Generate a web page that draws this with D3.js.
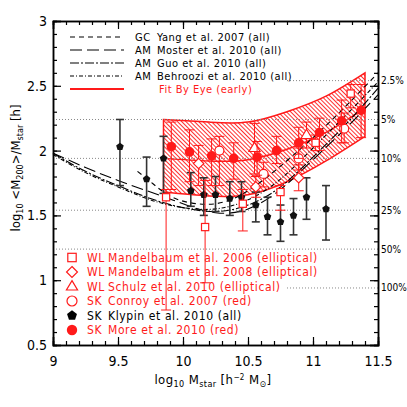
<!DOCTYPE html>
<html>
<head>
<meta charset="utf-8">
<script src="https://cdn.jsdelivr.net/npm/d3@7"></script>
<style>
  body { margin: 0; background: #fff; }
  svg { display: block; }
  text { font-family: "Liberation Sans Narrow", "DejaVu Sans Condensed", "Liberation Sans", sans-serif; }
</style>
</head>
<body>
<svg id="chart" width="407" height="407"></svg>
<script>
// tick labels
const xTicks = [9, 9.5, 10, 10.5, 11, 11.5];
const yTicks = [0.5, 1, 1.5, 2, 2.5, 3];
const pctLabels = ["2.5%", "5%", "10%", "25%", "50%", "100%"];
const pctLevels = [2.54, 2.24, 1.94, 1.54, 1.24, 0.94];

// abundance matching / group catalogue curves
const modelX = [9.0, 9.25, 9.5, 9.75, 10.0, 10.25, 10.5, 10.75, 11.0, 11.25, 11.5];
const moster = [1.98, 1.87, 1.77, 1.68, 1.59, 1.52, 1.55, 1.70, 1.93, 2.17, 2.43];
const guo = [1.98, 1.84, 1.73, 1.63, 1.56, 1.53, 1.58, 1.72, 1.95, 2.20, 2.48];
const behroozi = [1.97, 1.83, 1.72, 1.62, 1.56, 1.55, 1.62, 1.78, 2.02, 2.27, 2.53];
const yangX = [9.65, 9.75, 9.85, 10.0, 10.25, 10.5, 10.75, 11.0, 11.25, 11.5];
const yang = [1.84, 1.76, 1.68, 1.61, 1.59, 1.69, 1.88, 2.10, 2.34, 2.60];

// fit by eye band
const bandX = [9.85, 10.2, 10.5, 10.8, 11.1, 11.4];
const bandUp = [2.24, 2.22, 2.22, 2.30, 2.42, 2.60];
const bandMid = [1.94, 1.92, 1.93, 2.01, 2.14, 2.33];
const bandLo = [1.68, 1.65, 1.66, 1.76, 1.92, 2.11];

// Klypin et al. 2010 (SK, all)
const klypinX = [9.515, 9.72, 9.85, 10.06, 10.16, 10.25, 10.36, 10.45, 10.56, 10.65, 10.75, 10.85, 10.95, 11.10];
const klypinY = [2.03, 1.78, 1.94, 1.69, 1.66, 1.66, 1.63, 1.64, 1.58, 1.49, 1.45, 1.50, 1.64, 1.55];
const klypinHi = [2.24, 1.95, 2.11, 1.83, 1.79, 1.80, 1.76, 1.76, 1.68, 1.64, 1.58, 1.63, 1.79, 1.73];
const klypinLo = [1.73, 1.57, 1.67, 1.57, 1.50, 1.53, 1.50, 1.53, 1.45, 1.35, 1.30, 1.35, 1.47, 1.31];

// Mandelbaum et al. 2006 (WL, elliptical)
const mand06X = [9.87, 10.17, 10.46, 10.75, 11.02, 11.29];
const mand06Y = [1.64, 1.41, 1.59, 1.68, 2.06, 2.44];
const mand06Hi = [1.70, 1.77, 1.70, 1.73, 2.12, 2.51];
const mand06Lo = [0.77, 0.98, 1.38, 1.54, 2.00, 2.33];

// Mandelbaum et al. 2008 (WL, elliptical)
const mand08X = [10.12, 10.56, 10.89];
const mand08Y = [1.90, 1.72, 1.79];
const mand08Hi = [2.04, 1.80, 1.89];
const mand08Lo = [1.73, 1.64, 1.69];

// Schulz et al. 2010 (WL, elliptical)
const schulzX = [10.55, 10.95];
const schulzY = [2.02, 2.12];
const schulzHi = [2.21, 2.22];
const schulzLo = [1.82, 2.02];

// Conroy et al. 2007 (SK, red)
const conroyX = [10.28, 10.62, 10.89, 11.24];
const conroyY = [2.00, 1.82, 1.94, 2.17];
const conroyHi = [2.11, 1.91, 2.02, 2.29];
const conroyLo = [1.73, 1.72, 1.85, 2.06];

// More et al. 2010 (SK, red)
const moreX = [9.91, 10.05, 10.22, 10.39, 10.57, 10.72, 10.89, 11.05, 11.22, 11.37];
const moreY = [2.03, 1.99, 1.96, 1.94, 1.95, 2.00, 2.06, 2.14, 2.23, 2.31];
const moreHi = [2.22, 2.16, 2.09, 2.06, 2.07, 2.11, 2.18, 2.25, 2.39, 2.51];
const moreLo = [1.70, 1.76, 1.73, 1.78, 1.81, 1.90, 1.94, 2.00, 2.06, 2.10];

const RED = "#ff1a1a";
const svg = d3.select("#chart");
const mLeft = 53, mRight = 378, mTop = 21, mBottom = 345;

const x = d3.scaleLinear().domain([9, 11.5]).range([mLeft, mRight]);
const y = d3.scaleLinear().domain([0.5, 3]).range([mBottom, mTop]);

// hatch pattern for the band
const defs = svg.append("defs");
const pat = defs.append("pattern")
  .attr("id", "hatch")
  .attr("patternUnits", "userSpaceOnUse")
  .attr("width", 3).attr("height", 3)
  .attr("patternTransform", "rotate(-45)");
pat.append("line")
  .attr("x1", 0.5).attr("y1", 0).attr("x2", 0.5).attr("y2", 3)
  .attr("stroke", RED).attr("stroke-width", 0.9);

// band
const band = bandX.map((d, i) => ({ x: d, lo: bandLo[i], up: bandUp[i], mid: bandMid[i] }));
const area = d3.area().curve(d3.curveNatural)
  .x(d => x(d.x)).y0(d => y(d.lo)).y1(d => y(d.up));
svg.append("path").attr("d", area(band)).attr("fill", "url(#hatch)")
  .attr("stroke", RED).attr("stroke-width", 1.5);
svg.append("path")
  .attr("d", d3.line().curve(d3.curveNatural).x(d => x(d.x)).y(d => y(d.mid))(band))
  .attr("fill", "none").attr("stroke", RED).attr("stroke-width", 1.5);

// dotted efficiency levels
svg.selectAll(".lvl").data(pctLevels).join("line")
  .attr("class", "lvl")
  .attr("x1", mLeft).attr("x2", mRight)
  .attr("y1", d => y(d)).attr("y2", d => y(d))
  .attr("stroke", "#888").attr("stroke-width", 1).attr("stroke-dasharray", "1,2");

// legend backgrounds
svg.append("rect").attr("x", mLeft + 1).attr("y", mTop + 1).attr("width", 232).attr("height", 74).attr("fill", "#fff");
svg.append("rect").attr("x", mLeft + 1).attr("y", 251).attr("width", 232).attr("height", 92).attr("fill", "#fff");

// model curves
const models = [
  { name: "Yang", xs: yangX, ys: yang, dash: "5,4" },
  { name: "Moster", xs: modelX, ys: moster, dash: "12,5" },
  { name: "Guo", xs: modelX, ys: guo, dash: "9,2,2,2" },
  { name: "Behroozi", xs: modelX, ys: behroozi, dash: "4,2,1,2" }
];
const mline = d3.line().curve(d3.curveNatural).x(d => x(d[0])).y(d => y(d[1]));
models.forEach(m => {
  svg.append("path")
    .attr("d", mline(m.xs.map((v, i) => [v, m.ys[i]])))
    .attr("fill", "none").attr("stroke", "#000").attr("stroke-width", 1.1)
    .attr("stroke-dasharray", m.dash);
});

// symbols
function drawSymbol(g, shape, cx, cy, s, color) {
  if (shape === "circleFill") {
    g.append("circle").attr("cx", cx).attr("cy", cy).attr("r", s).attr("fill", color);
  } else if (shape === "circle") {
    g.append("circle").attr("cx", cx).attr("cy", cy).attr("r", s)
      .attr("fill", "#fff").attr("stroke", color).attr("stroke-width", 1.2);
  } else if (shape === "square") {
    g.append("rect").attr("x", cx - s).attr("y", cy - s).attr("width", 2 * s).attr("height", 2 * s)
      .attr("fill", "#fff").attr("stroke", color).attr("stroke-width", 1.2);
  } else if (shape === "diamond") {
    const r = s * 1.3;
    g.append("path").attr("d", `M${cx},${cy - r}L${cx + r},${cy}L${cx},${cy + r}L${cx - r},${cy}Z`)
      .attr("fill", "#fff").attr("stroke", color).attr("stroke-width", 1.2);
  } else if (shape === "triangle") {
    const r = s * 1.3;
    g.append("path").attr("d", `M${cx},${cy - r}L${cx + r * 0.95},${cy + r * 0.6}L${cx - r * 0.95},${cy + r * 0.6}Z`)
      .attr("fill", "#fff").attr("stroke", color).attr("stroke-width", 1.2);
  } else if (shape === "pentagon") {
    const pts = d3.range(5).map(k => {
      const a = -Math.PI / 2 + k * 2 * Math.PI / 5;
      return [cx + s * Math.cos(a), cy + s * Math.sin(a)];
    });
    g.append("path").attr("d", "M" + pts.join("L") + "Z").attr("fill", color);
  }
}

const sets = [
  { xs: klypinX, ys: klypinY, hi: klypinHi, lo: klypinLo, shape: "pentagon", color: "#111", ebar: "#333", size: 4, ew: 1.6, cap: 4 },
  { xs: mand06X, ys: mand06Y, hi: mand06Hi, lo: mand06Lo, shape: "square", color: RED, ebar: RED, size: 3.6, ew: 1, cap: 5 },
  { xs: mand08X, ys: mand08Y, hi: mand08Hi, lo: mand08Lo, shape: "diamond", color: RED, ebar: RED, size: 4, ew: 1, cap: 5 },
  { xs: schulzX, ys: schulzY, hi: schulzHi, lo: schulzLo, shape: "triangle", color: RED, ebar: RED, size: 4.5, ew: 1, cap: 5 },
  { xs: conroyX, ys: conroyY, hi: conroyHi, lo: conroyLo, shape: "circle", color: RED, ebar: RED, size: 4.5, ew: 1, cap: 5 },
  { xs: moreX, ys: moreY, hi: moreHi, lo: moreLo, shape: "circleFill", color: RED, ebar: RED, size: 4.8, ew: 1, cap: 5 }
];

sets.forEach(s => {
  const g = svg.append("g");
  s.xs.forEach((xv, i) => {
    const px = x(xv);
    g.append("line").attr("x1", px).attr("x2", px).attr("y1", y(s.lo[i])).attr("y2", y(s.hi[i]))
      .attr("stroke", s.ebar).attr("stroke-width", s.ew);
    [s.lo[i], s.hi[i]].forEach(v => {
      g.append("line").attr("x1", px - s.cap).attr("x2", px + s.cap).attr("y1", y(v)).attr("y2", y(v))
        .attr("stroke", s.ebar).attr("stroke-width", s.ew);
    });
  });
  s.xs.forEach((xv, i) => drawSymbol(g, s.shape, x(xv), y(s.ys[i]), s.size, s.color));
});

// axes with inward ticks
const minorX = d3.range(9, 11.501, 0.1);
const minorY = d3.range(0.5, 3.001, 0.1);
const axG = svg.append("g");
axG.append("g").attr("transform", `translate(0,${mBottom})`)
  .call(d3.axisBottom(x).tickValues(minorX).tickSize(-4).tickFormat(""));
axG.append("g").attr("transform", `translate(0,${mBottom})`)
  .call(d3.axisBottom(x).tickValues(xTicks).tickSize(-8).tickPadding(11).tickFormat(d3.format("")));
axG.append("g").attr("transform", `translate(0,${mTop})`)
  .call(d3.axisTop(x).tickValues(minorX).tickSize(-4).tickFormat(""));
axG.append("g").attr("transform", `translate(0,${mTop})`)
  .call(d3.axisTop(x).tickValues(xTicks).tickSize(-8).tickFormat(""));
axG.append("g").attr("transform", `translate(${mLeft},0)`)
  .call(d3.axisLeft(y).tickValues(minorY).tickSize(-4).tickFormat(""));
axG.append("g").attr("transform", `translate(${mLeft},0)`)
  .call(d3.axisLeft(y).tickValues(yTicks).tickSize(-8).tickPadding(6).tickFormat(d3.format("")));
axG.append("g").attr("transform", `translate(${mRight},0)`)
  .call(d3.axisRight(y).tickValues(minorY).tickSize(-4).tickFormat(""));
axG.append("g").attr("transform", `translate(${mRight},0)`)
  .call(d3.axisRight(y).tickValues(yTicks).tickSize(-8).tickFormat(""));
axG.selectAll(".domain").attr("stroke", "#000").attr("stroke-width", 1.5);
axG.selectAll(".tick line").attr("stroke", "#000").attr("stroke-width", 1.2);
axG.selectAll(".tick text").attr("font-size", 14).attr("fill", "#000")
  .style("font-family", "'Liberation Sans Narrow', 'DejaVu Sans Condensed', sans-serif");

// right-hand efficiency labels
svg.selectAll(".pct").data(pctLevels).join("text")
  .attr("class", "pct")
  .attr("x", mRight + 3).attr("y", d => y(d))
  .attr("dy", "0.35em").attr("font-size", 10)
  .text((d, i) => pctLabels[i]);

// axis titles
const xl = svg.append("text").attr("x", 213).attr("y", 384).attr("text-anchor", "middle")
  .attr("font-size", 13).attr("letter-spacing", 0.4);
xl.append("tspan").text("log");
xl.append("tspan").attr("font-size", 9).attr("dy", 3).text("10");
xl.append("tspan").attr("dy", -3).text(" M");
xl.append("tspan").attr("font-size", 9).attr("dy", 3).text("star");
xl.append("tspan").attr("dy", -3).text(" [h");
xl.append("tspan").attr("font-size", 8).attr("dy", -4).text("−2");
xl.append("tspan").attr("dy", 4).text(" M");
xl.append("tspan").attr("font-size", 9).attr("dy", 3).text("⊙");
xl.append("tspan").attr("dy", -3).text("]");

const yl = svg.append("text").attr("transform", "translate(20,168) rotate(-90)")
  .attr("text-anchor", "middle").attr("font-size", 13);
yl.append("tspan").text("log");
yl.append("tspan").attr("font-size", 9).attr("dy", 3).text("10");
yl.append("tspan").attr("dy", -3).text(" <M");
yl.append("tspan").attr("font-size", 9).attr("dy", 3).text("200");
yl.append("tspan").attr("dy", -3).text(">/M");
yl.append("tspan").attr("font-size", 9).attr("dy", 3).text("star");
yl.append("tspan").attr("dy", -3).text(" [h]");

// top legend
const topLegend = [
  { tag: "GC", label: "Yang et al. 2007 (all)", dash: "5,4", color: "#000", w: 1.1 },
  { tag: "AM", label: "Moster et al. 2010 (all)", dash: "12,5", color: "#000", w: 1.1 },
  { tag: "AM", label: "Guo et al. 2010 (all)", dash: "9,2,2,2", color: "#000", w: 1.1 },
  { tag: "AM", label: "Behroozi et al. 2010 (all)", dash: "4,2,1,2", color: "#000", w: 1.1 },
  { tag: "", label: "Fit By Eye (early)", dash: null, color: RED, w: 2 }
];
topLegend.forEach((d, i) => {
  const yy = 37 + i * 13;
  svg.append("line").attr("x1", 70).attr("x2", 124).attr("y1", yy).attr("y2", yy)
    .attr("stroke", d.color).attr("stroke-width", d.w).attr("stroke-dasharray", d.dash);
  svg.append("text").attr("x", 135).attr("y", yy).attr("dy", "0.35em").attr("font-size", 11)
    .attr("letter-spacing", 0.5).text(d.tag);
  svg.append("text").attr("x", d.tag ? 157 : 159).attr("y", yy).attr("dy", "0.35em")
    .attr("font-size", 11).attr("letter-spacing", 0.5).attr("fill", d.color).text(d.label);
});

// bottom legend
const botLegend = [
  { tag: "WL", label: "Mandelbaum et al. 2006 (elliptical)", shape: "square", color: RED, s: 4.2 },
  { tag: "WL", label: "Mandelbaum et al. 2008 (elliptical)", shape: "diamond", color: RED, s: 4.2 },
  { tag: "WL", label: "Schulz et al. 2010 (elliptical)", shape: "triangle", color: RED, s: 4.5 },
  { tag: "SK", label: "Conroy et al. 2007 (red)", shape: "circle", color: RED, s: 5 },
  { tag: "SK", label: "Klypin et al. 2010 (all)", shape: "pentagon", color: "#000", s: 5.2 },
  { tag: "SK", label: "More et al. 2010 (red)", shape: "circleFill", color: RED, s: 5.2 }
];
const lg = svg.append("g");
botLegend.forEach((d, i) => {
  const yy = 257.5 + i * 14.5;
  drawSymbol(lg, d.shape, 72, yy, d.s, d.color);
  lg.append("text").attr("x", 87).attr("y", yy).attr("dy", "0.35em").attr("font-size", 12)
    .attr("letter-spacing", 0.6).attr("fill", d.color).text(d.tag);
  lg.append("text").attr("x", 108).attr("y", yy).attr("dy", "0.35em").attr("font-size", 12)
    .attr("letter-spacing", 0.6).attr("fill", d.color).text(d.label);
});
</script>
</body>
</html>
